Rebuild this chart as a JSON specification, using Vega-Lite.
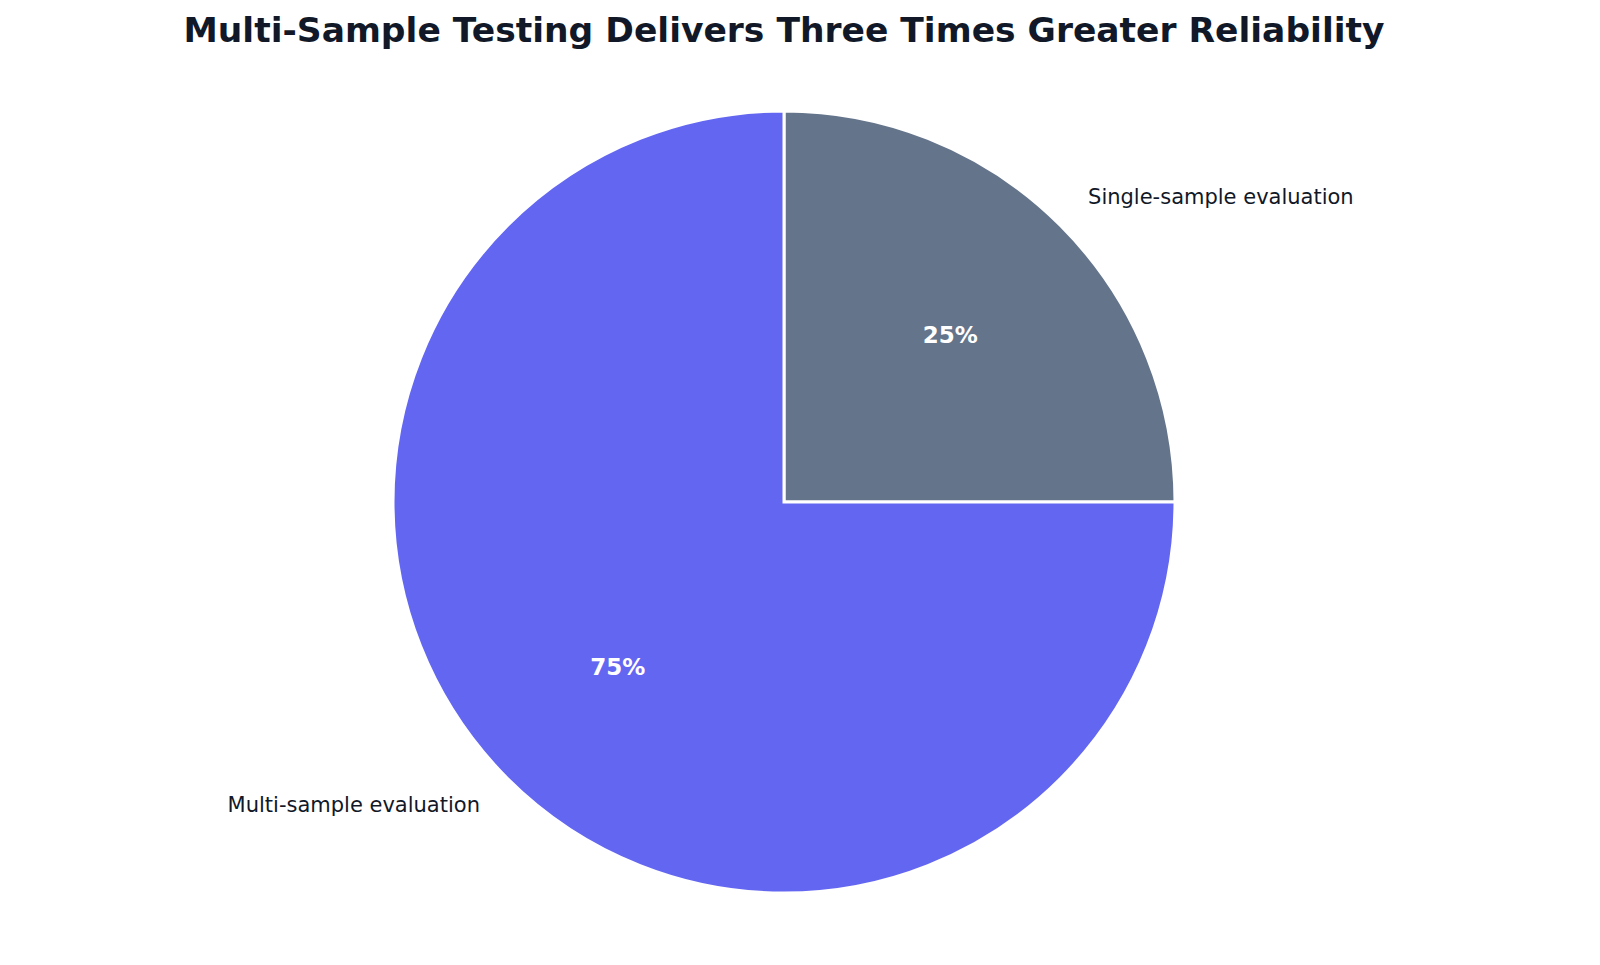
{
  "$schema": "https://vega.github.io/schema/vega-lite/v6.json",
  "autosize": "none",
  "width": 1568,
  "height": 884,
  "padding": {"left": 0, "top": 60, "right": 32, "bottom": 21},
  "background": "white",
  "title": {
    "text": "Multi-Sample Testing Delivers Three Times Greater Reliability",
    "font": "DejaVu Sans",
    "fontSize": 34.5,
    "fontWeight": "bold",
    "color": "#111827",
    "anchor": "middle",
    "offset": 11
  },
  "data": {
    "values": [
      {"method": "Single-sample evaluation", "share": 0.25},
      {"method": "Multi-sample evaluation", "share": 0.75}
    ]
  },
  "encoding": {
    "theta": {"field": "share", "type": "quantitative", "stack": true},
    "order": {"field": "share", "sort": "ascending"}
  },
  "layer": [
    {
      "mark": {"type": "arc", "radius": 391, "stroke": "white", "strokeWidth": 3},
      "encoding": {
        "color": {
          "field": "method",
          "type": "nominal",
          "scale": {
            "domain": ["Single-sample evaluation", "Multi-sample evaluation"],
            "range": ["#64748B", "#6366F1"]
          },
          "legend": null
        }
      }
    },
    {
      "mark": {"type": "text", "radius": 235, "font": "DejaVu Sans", "fontSize": 23, "fontWeight": "bold", "color": "white"},
      "encoding": {
        "text": {"field": "share", "type": "quantitative", "format": ".0%"}
      }
    },
    {
      "mark": {
        "type": "text",
        "radius": 430,
        "align": {"expr": "datum.share > 0.5 ? 'right' : 'left'"},
        "font": "DejaVu Sans",
        "fontSize": 21,
        "color": "#111827"
      },
      "encoding": {
        "text": {"field": "method"}
      }
    }
  ]
}
